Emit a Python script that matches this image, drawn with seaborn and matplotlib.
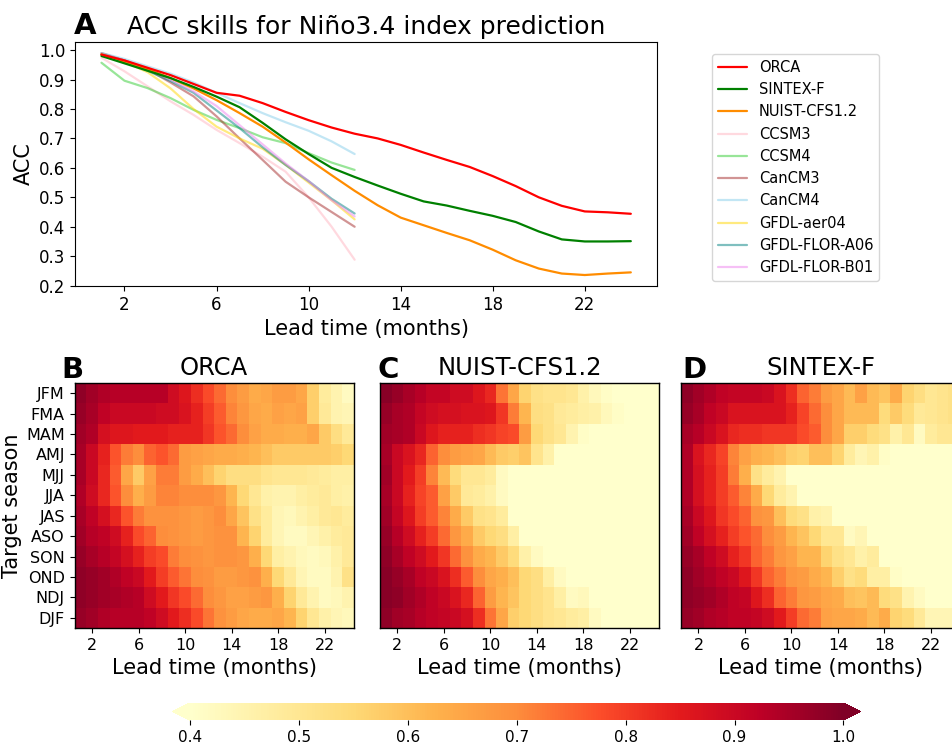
import numpy as np
import pandas as pd
import matplotlib
matplotlib.use("Agg")
import matplotlib.pyplot as plt
import seaborn as sns

# ==================== DATA ====================
leads_long = list(range(1, 25))
leads_short = list(range(1, 13))
seasons = ["JFM", "FMA", "MAM", "AMJ", "MJJ", "JJA", "JAS", "ASO", "SON", "OND", "NDJ", "DJF"]

orca_line = [0.985, 0.965, 0.94, 0.915, 0.885, 0.855, 0.845, 0.82, 0.79, 0.762, 0.737, 0.716,
             0.70, 0.678, 0.652, 0.627, 0.603, 0.572, 0.538, 0.50, 0.471, 0.452, 0.449, 0.444]
sintex_line = [0.98, 0.955, 0.93, 0.905, 0.875, 0.842, 0.806, 0.753, 0.697, 0.647, 0.60, 0.569,
               0.54, 0.512, 0.486, 0.472, 0.454, 0.437, 0.416, 0.384, 0.357, 0.350, 0.350, 0.351]
nuist_line = [0.985, 0.96, 0.935, 0.905, 0.87, 0.83, 0.786, 0.74, 0.686, 0.629, 0.575, 0.522,
              0.473, 0.431, 0.405, 0.379, 0.354, 0.322, 0.286, 0.258, 0.241, 0.236, 0.241, 0.245]
ccsm3_line = [0.974, 0.928, 0.877, 0.826, 0.78, 0.729, 0.684, 0.638, 0.587, 0.50, 0.40, 0.288]
ccsm4_line = [0.957, 0.896, 0.871, 0.837, 0.797, 0.763, 0.735, 0.704, 0.684, 0.65, 0.618, 0.593]
cancm3_line = [0.99, 0.965, 0.935, 0.89, 0.843, 0.775, 0.70, 0.627, 0.553, 0.50, 0.45, 0.40]
cancm4_line = [0.99, 0.97, 0.945, 0.92, 0.89, 0.855, 0.82, 0.786, 0.755, 0.726, 0.69, 0.647]
aer04_line = [0.985, 0.96, 0.925, 0.87, 0.80, 0.74, 0.70, 0.665, 0.61, 0.55, 0.49, 0.425]
a06_line = [0.985, 0.965, 0.93, 0.895, 0.855, 0.795, 0.735, 0.67, 0.61, 0.555, 0.495, 0.445]
b01_line = [0.985, 0.965, 0.935, 0.90, 0.86, 0.81, 0.745, 0.68, 0.615, 0.555, 0.49, 0.435]

orca_map = [
    [0.98, 0.96, 0.94, 0.93, 0.93, 0.93, 0.93, 0.93, 0.89, 0.86, 0.82, 0.78, 0.74, 0.70, 0.67, 0.64, 0.65, 0.67, 0.67, 0.65, 0.57, 0.48, 0.45, 0.42],
    [0.97, 0.95, 0.92, 0.90, 0.90, 0.90, 0.90, 0.89, 0.89, 0.87, 0.84, 0.80, 0.76, 0.71, 0.68, 0.65, 0.64, 0.66, 0.65, 0.66, 0.57, 0.49, 0.45, 0.44],
    [0.96, 0.94, 0.88, 0.86, 0.86, 0.85, 0.85, 0.85, 0.84, 0.84, 0.84, 0.81, 0.77, 0.74, 0.70, 0.66, 0.64, 0.64, 0.63, 0.63, 0.65, 0.58, 0.53, 0.49],
    [0.95, 0.90, 0.84, 0.77, 0.72, 0.70, 0.75, 0.77, 0.74, 0.67, 0.66, 0.65, 0.64, 0.64, 0.63, 0.62, 0.60, 0.58, 0.58, 0.58, 0.58, 0.58, 0.57, 0.55],
    [0.95, 0.90, 0.83, 0.76, 0.65, 0.58, 0.66, 0.72, 0.72, 0.67, 0.64, 0.60, 0.56, 0.53, 0.53, 0.53, 0.51, 0.50, 0.50, 0.50, 0.49, 0.48, 0.47, 0.47],
    [0.94, 0.89, 0.83, 0.77, 0.70, 0.63, 0.67, 0.71, 0.71, 0.70, 0.70, 0.70, 0.68, 0.62, 0.55, 0.50, 0.46, 0.45, 0.45, 0.47, 0.48, 0.49, 0.47, 0.46],
    [0.95, 0.92, 0.88, 0.83, 0.77, 0.72, 0.69, 0.69, 0.69, 0.68, 0.67, 0.68, 0.70, 0.65, 0.59, 0.52, 0.48, 0.44, 0.43, 0.45, 0.47, 0.49, 0.50, 0.48],
    [0.96, 0.93, 0.92, 0.89, 0.84, 0.78, 0.75, 0.70, 0.69, 0.68, 0.67, 0.68, 0.69, 0.69, 0.62, 0.56, 0.48, 0.44, 0.42, 0.42, 0.44, 0.46, 0.48, 0.49],
    [0.97, 0.95, 0.93, 0.91, 0.88, 0.84, 0.80, 0.78, 0.72, 0.70, 0.69, 0.68, 0.69, 0.69, 0.68, 0.63, 0.55, 0.47, 0.45, 0.43, 0.42, 0.43, 0.46, 0.49],
    [0.98, 0.97, 0.96, 0.94, 0.92, 0.90, 0.85, 0.80, 0.76, 0.73, 0.70, 0.69, 0.67, 0.67, 0.68, 0.69, 0.63, 0.55, 0.49, 0.44, 0.42, 0.42, 0.45, 0.52],
    [0.98, 0.97, 0.96, 0.95, 0.94, 0.93, 0.89, 0.85, 0.81, 0.78, 0.74, 0.70, 0.68, 0.66, 0.66, 0.67, 0.68, 0.63, 0.56, 0.49, 0.45, 0.42, 0.43, 0.45],
    [0.97, 0.96, 0.94, 0.93, 0.93, 0.93, 0.92, 0.89, 0.85, 0.82, 0.78, 0.73, 0.69, 0.67, 0.65, 0.64, 0.64, 0.65, 0.62, 0.56, 0.50, 0.46, 0.44, 0.43],
]
nuist_map = [
    [0.99, 0.97, 0.95, 0.93, 0.91, 0.91, 0.89, 0.89, 0.86, 0.83, 0.73, 0.65, 0.56, 0.52, 0.51, 0.51, 0.50, 0.46, 0.43, 0.41, 0.39, 0.38, 0.38, 0.38],
    [0.97, 0.95, 0.94, 0.91, 0.89, 0.88, 0.88, 0.87, 0.87, 0.86, 0.81, 0.72, 0.62, 0.53, 0.52, 0.49, 0.48, 0.47, 0.46, 0.43, 0.41, 0.39, 0.38, 0.38],
    [0.96, 0.95, 0.94, 0.90, 0.86, 0.84, 0.84, 0.84, 0.82, 0.81, 0.79, 0.78, 0.67, 0.55, 0.52, 0.50, 0.45, 0.41, 0.40, 0.39, 0.38, 0.38, 0.38, 0.38],
    [0.95, 0.90, 0.87, 0.83, 0.75, 0.70, 0.67, 0.66, 0.65, 0.61, 0.58, 0.57, 0.59, 0.51, 0.46, 0.39, 0.38, 0.38, 0.38, 0.38, 0.38, 0.38, 0.38, 0.38],
    [0.96, 0.90, 0.85, 0.80, 0.71, 0.61, 0.54, 0.50, 0.50, 0.48, 0.42, 0.38, 0.38, 0.38, 0.38, 0.38, 0.38, 0.38, 0.38, 0.38, 0.38, 0.38, 0.38, 0.38],
    [0.95, 0.90, 0.84, 0.79, 0.76, 0.66, 0.58, 0.49, 0.48, 0.46, 0.42, 0.38, 0.38, 0.38, 0.38, 0.38, 0.38, 0.38, 0.38, 0.38, 0.38, 0.38, 0.38, 0.38],
    [0.96, 0.91, 0.86, 0.80, 0.76, 0.71, 0.64, 0.58, 0.52, 0.51, 0.48, 0.38, 0.38, 0.38, 0.38, 0.38, 0.38, 0.38, 0.38, 0.38, 0.38, 0.38, 0.38, 0.38],
    [0.97, 0.93, 0.89, 0.84, 0.80, 0.74, 0.68, 0.64, 0.58, 0.55, 0.53, 0.47, 0.38, 0.38, 0.38, 0.38, 0.38, 0.38, 0.38, 0.38, 0.38, 0.38, 0.38, 0.38],
    [0.98, 0.95, 0.92, 0.89, 0.85, 0.81, 0.74, 0.69, 0.64, 0.62, 0.58, 0.54, 0.46, 0.42, 0.38, 0.38, 0.38, 0.38, 0.38, 0.38, 0.38, 0.38, 0.38, 0.38],
    [0.99, 0.97, 0.95, 0.92, 0.90, 0.87, 0.82, 0.76, 0.70, 0.65, 0.63, 0.60, 0.55, 0.53, 0.47, 0.42, 0.38, 0.38, 0.38, 0.38, 0.38, 0.38, 0.38, 0.38],
    [0.99, 0.98, 0.96, 0.94, 0.92, 0.90, 0.87, 0.83, 0.75, 0.67, 0.62, 0.59, 0.55, 0.53, 0.51, 0.47, 0.42, 0.43, 0.38, 0.38, 0.38, 0.38, 0.38, 0.38],
    [0.98, 0.96, 0.95, 0.93, 0.92, 0.91, 0.90, 0.88, 0.82, 0.73, 0.65, 0.57, 0.55, 0.53, 0.51, 0.50, 0.48, 0.47, 0.42, 0.38, 0.38, 0.38, 0.38, 0.38],
]
sintex_map = [
    [0.98, 0.96, 0.94, 0.92, 0.91, 0.91, 0.91, 0.90, 0.87, 0.82, 0.75, 0.72, 0.67, 0.65, 0.61, 0.66, 0.61, 0.59, 0.64, 0.56, 0.53, 0.50, 0.51, 0.52],
    [0.97, 0.95, 0.92, 0.90, 0.87, 0.87, 0.87, 0.87, 0.87, 0.84, 0.79, 0.74, 0.70, 0.65, 0.61, 0.61, 0.61, 0.54, 0.58, 0.54, 0.49, 0.50, 0.51, 0.52],
    [0.95, 0.93, 0.90, 0.87, 0.83, 0.82, 0.82, 0.81, 0.81, 0.81, 0.78, 0.76, 0.70, 0.65, 0.57, 0.57, 0.54, 0.52, 0.46, 0.50, 0.42, 0.48, 0.50, 0.50],
    [0.94, 0.87, 0.83, 0.79, 0.71, 0.66, 0.63, 0.62, 0.60, 0.57, 0.56, 0.60, 0.60, 0.56, 0.48, 0.44, 0.46, 0.41, 0.38, 0.38, 0.38, 0.38, 0.38, 0.38],
    [0.94, 0.88, 0.84, 0.80, 0.72, 0.63, 0.52, 0.48, 0.45, 0.39, 0.38, 0.38, 0.38, 0.38, 0.38, 0.38, 0.38, 0.38, 0.38, 0.38, 0.38, 0.38, 0.38, 0.38],
    [0.94, 0.88, 0.84, 0.80, 0.76, 0.71, 0.64, 0.55, 0.48, 0.45, 0.39, 0.38, 0.38, 0.38, 0.38, 0.38, 0.38, 0.38, 0.38, 0.38, 0.38, 0.38, 0.38, 0.38],
    [0.95, 0.90, 0.86, 0.81, 0.78, 0.75, 0.69, 0.68, 0.60, 0.54, 0.52, 0.46, 0.45, 0.39, 0.38, 0.38, 0.38, 0.38, 0.38, 0.38, 0.38, 0.38, 0.38, 0.38],
    [0.96, 0.92, 0.88, 0.84, 0.80, 0.77, 0.74, 0.70, 0.67, 0.62, 0.59, 0.55, 0.50, 0.50, 0.42, 0.44, 0.39, 0.38, 0.38, 0.38, 0.38, 0.38, 0.38, 0.38],
    [0.97, 0.95, 0.92, 0.89, 0.84, 0.81, 0.75, 0.72, 0.68, 0.66, 0.62, 0.62, 0.56, 0.52, 0.50, 0.46, 0.48, 0.39, 0.38, 0.38, 0.38, 0.38, 0.38, 0.38],
    [0.98, 0.96, 0.94, 0.92, 0.90, 0.86, 0.81, 0.75, 0.72, 0.68, 0.67, 0.64, 0.62, 0.57, 0.52, 0.54, 0.47, 0.47, 0.41, 0.39, 0.38, 0.38, 0.38, 0.38],
    [0.98, 0.97, 0.96, 0.94, 0.92, 0.91, 0.86, 0.82, 0.75, 0.72, 0.68, 0.67, 0.65, 0.64, 0.60, 0.59, 0.61, 0.54, 0.52, 0.45, 0.42, 0.39, 0.39, 0.39],
    [0.97, 0.96, 0.94, 0.93, 0.92, 0.92, 0.91, 0.89, 0.85, 0.80, 0.74, 0.72, 0.66, 0.65, 0.65, 0.64, 0.61, 0.64, 0.56, 0.54, 0.49, 0.44, 0.44, 0.44],
]

# ==================== STYLE ====================
sns.set_style("ticks", {"axes.edgecolor": "black", "text.color": "black",
                        "axes.labelcolor": "black", "xtick.color": "black",
                        "ytick.color": "black"})
plt.rcParams["font.family"] = ["DejaVu Sans"]
plt.rcParams["xtick.major.size"] = 3.5
plt.rcParams["ytick.major.size"] = 3.5

fig = plt.figure(figsize=(9.53, 7.49), dpi=100)

# ==================== PANEL A: LINES ====================
ax = fig.add_axes([0.0787, 0.618, 0.611, 0.326])
lines = [
    ("ORCA", leads_long, orca_line, "red", 1.0, 5),
    ("SINTEX-F", leads_long, sintex_line, "green", 1.0, 4),
    ("NUIST-CFS1.2", leads_long, nuist_line, "darkorange", 1.0, 3),
    ("CCSM3", leads_short, ccsm3_line, "pink", 0.6, 2),
    ("CCSM4", leads_short, ccsm4_line, "limegreen", 0.5, 2),
    ("CanCM3", leads_short, cancm3_line, "brown", 0.5, 2),
    ("CanCM4", leads_short, cancm4_line, "skyblue", 0.5, 2),
    ("GFDL-aer04", leads_short, aer04_line, "gold", 0.5, 2),
    ("GFDL-FLOR-A06", leads_short, a06_line, "teal", 0.5, 2),
    ("GFDL-FLOR-B01", leads_short, b01_line, "violet", 0.5, 2),
]
for name, x, y, col, a, z in lines:
    sns.lineplot(x=x, y=y, ax=ax, color=col, alpha=a, linewidth=1.6, label=name, zorder=z)
ax.set_xticks([2, 6, 10, 14, 18, 22])
ax.set_yticks(np.arange(0.2, 1.01, 0.1))
ax.yaxis.set_major_formatter(matplotlib.ticker.FormatStrFormatter("%.1f"))
ax.tick_params(labelsize=12)
ax.set_xlabel("Lead time (months)", fontsize=15)
ax.set_ylabel("ACC", fontsize=15)
ax.set_title("ACC skills for Niño3.4 index prediction", fontsize=18)
ax.legend(loc="upper left", bbox_to_anchor=(1.094, 0.951), borderaxespad=0, fontsize=10.5)
fig.text(0.078, 0.955, "A", fontsize=21, fontweight="bold")

# ==================== PANELS B-D: HEATMAPS ====================
cax = fig.add_axes([0.1815, 0.0387, 0.7214, 0.0227])
panels = [
    ("ORCA", orca_map, 0.0784, "B", 0.064),
    ("NUIST-CFS1.2", nuist_map, 0.3987, "C", 0.396),
    ("SINTEX-F", sintex_map, 0.7146, "D", 0.716),
]
for i, (name, data, left, letter, lx) in enumerate(panels):
    hax = fig.add_axes([left, 0.1616, 0.2928, 0.327])
    df = pd.DataFrame(data, index=seasons, columns=leads_long)
    sns.heatmap(df, ax=hax, cmap="YlOrRd", vmin=0.4, vmax=1.0,
                cbar=(i == 0), cbar_ax=cax if i == 0 else None,
                cbar_kws={"orientation": "horizontal", "extend": "both",
                          "extendfrac": 0.026, "ticks": [0.4, 0.5, 0.6, 0.7, 0.8, 0.9, 1.0]},
                xticklabels=False, yticklabels=False)
    for sp in hax.spines.values():
        sp.set_visible(True)
        sp.set_linewidth(1.0)
    hax.set_xticks([1.5, 5.5, 9.5, 13.5, 17.5, 21.5])
    hax.set_xticklabels(["2", "6", "10", "14", "18", "22"], rotation=0)
    if i == 0:
        hax.set_yticks(np.arange(12) + 0.5)
        hax.set_yticklabels(seasons, rotation=0)
        hax.set_ylabel("Target season", fontsize=15)
        hax.yaxis.set_label_coords(-0.19, 0.5)
    else:
        hax.set_yticks([])
        hax.set_ylabel("")
    hax.tick_params(labelsize=11.5)
    hax.set_xlabel("Lead time (months)", fontsize=15)
    hax.set_title(name, fontsize=17.5)
    fig.text(lx, 0.495, letter, fontsize=21, fontweight="bold")

cax.tick_params(labelsize=11, bottom=True, length=3.5, width=0.8)
cax.xaxis.set_major_formatter(matplotlib.ticker.FormatStrFormatter("%.1f"))

fig.savefig("out.png", dpi=100)
